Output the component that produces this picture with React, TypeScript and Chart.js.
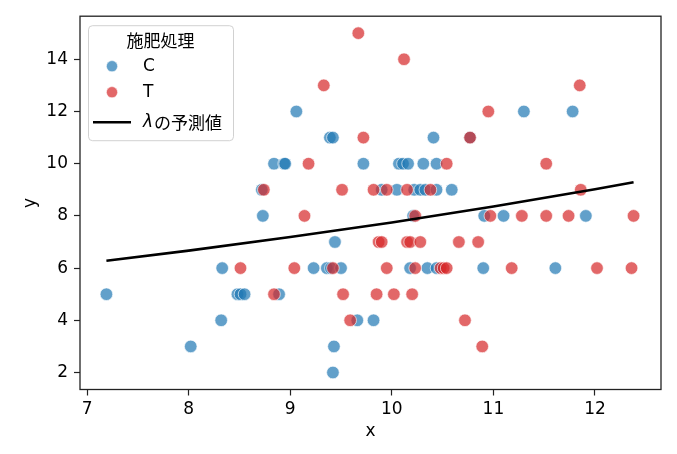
import React, { useEffect, useRef } from 'react';
import { Chart, registerables } from 'chart.js';

Chart.register(...registerables);

// ---- data ----
const cX = [
  9.42,
  8.02, 9.43,
  8.32, 9.66, 9.82,
  7.19, 8.48, 8.51, 8.55, 8.89,
  8.33, 9.23, 9.36, 9.40, 9.50, 10.18, 10.35, 10.44, 10.90, 11.61,
  9.44,
  8.73, 10.21, 10.91, 11.10, 11.91,
  8.72, 9.90, 10.05, 10.22, 10.28, 10.33, 10.44, 10.59,
  8.84, 8.94, 8.95, 9.72, 10.07, 10.11, 10.16, 10.31, 10.44,
  9.39, 9.42, 10.41, 10.77,
  9.06, 11.30, 11.78,
];
const cY = [
  2,
  3, 3,
  4, 4, 4,
  5, 5, 5, 5, 5,
  6, 6, 6, 6, 6, 6, 6, 6, 6, 6,
  7,
  8, 8, 8, 8, 8,
  9, 9, 9, 9, 9, 9, 9, 9,
  10, 10, 10, 10, 10, 10, 10, 10, 10,
  11, 11, 11, 11,
  12, 12, 12,
];
const tX = [
  10.89,
  9.59, 10.72,
  8.84, 9.52, 9.85, 10.02, 10.20,
  8.51, 9.04, 9.42, 9.95, 10.23, 10.48, 10.51, 10.54, 11.18, 12.02, 12.36,
  9.87, 9.90, 10.15, 10.18, 10.28, 10.66, 10.85,
  9.14, 10.23, 10.97, 11.28, 11.52, 11.74, 12.38,
  8.74, 9.51, 9.82, 9.95, 10.15, 10.38, 11.86,
  9.18, 10.54, 11.52,
  9.72, 10.77,
  10.95,
  9.33, 11.85,
  10.12,
  9.67,
];
const tY = [
  3,
  4, 4,
  5, 5, 5, 5, 5,
  6, 6, 6, 6, 6, 6, 6, 6, 6, 6, 6,
  7, 7, 7, 7, 7, 7, 7,
  8, 8, 8, 8, 8, 8, 8,
  9, 9, 9, 9, 9, 9, 9,
  10, 10, 10,
  11, 11,
  12,
  13, 13,
  14,
  15,
];
const lineX = [7.19, 8, 9, 10, 11, 12, 12.38];
const lineY = [6.28, 6.67, 7.19, 7.75, 8.36, 9.02, 9.29];

const xTicks = [7, 8, 9, 10, 11, 12];
const yTicks = [2, 4, 6, 8, 10, 12, 14];

const legendTitle = '施肥処理';
const groupLabels = ['C', 'T'];
const lineLabelSymbol = 'λ';
const lineLabelRest = 'の予測値';

const BLUE = 'rgba(31,119,180,0.7)';
const RED = 'rgba(214,39,40,0.7)';
const EDGE = 'rgba(255,255,255,0.7)';
const FONT_SIZE = 17;

const toPts = (xs: number[], ys: number[]) => xs.map((x, i) => ({ x, y: ys[i] }));

const framePlugin = {
  id: 'frame',
  afterDraw(chart: any) {
    const { ctx, chartArea } = chart;
    const { left, top, right, bottom } = chartArea;
    ctx.save();
    ctx.strokeStyle = '#222';
    ctx.lineWidth = 1.3;
    ctx.strokeRect(left, top, right - left, bottom - top);
    ctx.restore();
  },
};

const legendPlugin = {
  id: 'customLegend',
  afterDraw(chart: any) {
    const { ctx, chartArea } = chart;
    const bx = chartArea.left + 8;
    const by = chartArea.top + 9;
    const bw = 145;
    const bh = 115;
    ctx.save();
    ctx.beginPath();
    if ((ctx as any).roundRect) (ctx as any).roundRect(bx + 0.5, by + 0.5, bw, bh, 4);
    else ctx.rect(bx + 0.5, by + 0.5, bw, bh);
    ctx.fillStyle = 'rgba(255,255,255,0.8)';
    ctx.fill();
    ctx.strokeStyle = 'rgba(204,204,204,0.9)';
    ctx.lineWidth = 1;
    ctx.stroke();

    ctx.fillStyle = '#000';
    ctx.textBaseline = 'middle';
    ctx.textAlign = 'center';
    ctx.font = `${FONT_SIZE}px "Noto Sans CJK JP", "DejaVu Sans", sans-serif`;
    ctx.fillText(legendTitle, bx + bw / 2, by + 15);

    const markerX = bx + 24;
    const textX = bx + 55;
    const rows = [by + 41, by + 67, by + 97];
    const colors = [BLUE, RED];
    ctx.textAlign = 'left';
    for (let i = 0; i < 2; i++) {
      ctx.beginPath();
      ctx.arc(markerX, rows[i], 5.6, 0, Math.PI * 2);
      ctx.fillStyle = colors[i];
      ctx.fill();
      ctx.strokeStyle = EDGE;
      ctx.lineWidth = 0.8;
      ctx.stroke();
      ctx.fillStyle = '#000';
      ctx.font = `${FONT_SIZE}px "DejaVu Sans", sans-serif`;
      ctx.fillText(groupLabels[i], textX, rows[i]);
    }
    // line entry
    ctx.beginPath();
    ctx.moveTo(bx + 5, rows[2]);
    ctx.lineTo(bx + 43, rows[2]);
    ctx.strokeStyle = '#000';
    ctx.lineWidth = 2.6;
    ctx.stroke();
    ctx.fillStyle = '#000';
    ctx.font = `italic ${FONT_SIZE}px "DejaVu Sans", sans-serif`;
    ctx.fillText(lineLabelSymbol, textX, rows[2]);
    const w = ctx.measureText(lineLabelSymbol).width;
    ctx.font = `${FONT_SIZE}px "Noto Sans CJK JP", sans-serif`;
    ctx.fillText(lineLabelRest, textX + w + 1, rows[2]);
    ctx.restore();
  },
};

export default function App() {
  const ref = useRef<HTMLCanvasElement>(null);
  useEffect(() => {
    const canvas = ref.current;
    if (!canvas) return;
    const tickFont = { family: '"DejaVu Sans", sans-serif', size: FONT_SIZE };
    const chart = new Chart(canvas, {
      type: 'scatter',
      data: {
        datasets: [
          {
            type: 'line',
            label: 'λの予測値',
            data: toPts(lineX, lineY),
            borderColor: '#000',
            borderWidth: 2.6,
            pointRadius: 0,
            tension: 0,
            fill: false,
            order: 0,
          } as any,
          {
            label: groupLabels[1],
            data: toPts(tX, tY),
            backgroundColor: RED,
            borderColor: EDGE,
            borderWidth: 0.9,
            pointRadius: 6.3,
            order: 1,
          },
          {
            label: groupLabels[0],
            data: toPts(cX, cY),
            backgroundColor: BLUE,
            borderColor: EDGE,
            borderWidth: 0.9,
            pointRadius: 6.3,
            order: 2,
          },
        ],
      },
      options: {
        responsive: false,
        animation: false,
        events: [],
        layout: { padding: { left: 0, top: 12, right: 16, bottom: 0 } },
        plugins: {
          legend: { display: false },
          tooltip: { enabled: false },
        },
        scales: {
          x: {
            type: 'linear',
            min: 6.93,
            max: 12.65,
            afterBuildTicks: (axis: any) => {
              axis.ticks = xTicks.map((v) => ({ value: v }));
            },
            afterFit: (axis: any) => {
              axis.height = 64.5;
            },
            border: { display: false },
            grid: {
              drawOnChartArea: false,
              drawTicks: true,
              tickLength: 6,
              tickColor: '#222',
              tickWidth: 1.2,
            },
            ticks: {
              font: tickFont,
              color: '#000',
              padding: 4,
              maxRotation: 0,
              callback: (v: any) => String(v),
            },
            title: {
              display: true,
              text: 'x',
              font: tickFont,
              color: '#000',
              padding: { top: 0, bottom: 12 },
            },
          },
          y: {
            type: 'linear',
            min: 1.35,
            max: 15.65,
            afterBuildTicks: (axis: any) => {
              axis.ticks = yTicks.map((v) => ({ value: v }));
            },
            afterFit: (axis: any) => {
              axis.width = 80;
            },
            border: { display: false },
            grid: {
              drawOnChartArea: false,
              drawTicks: true,
              tickLength: 6,
              tickColor: '#222',
              tickWidth: 1.2,
            },
            ticks: {
              font: tickFont,
              color: '#000',
              padding: 6,
              callback: (v: any) => String(v),
            },
            title: {
              display: true,
              text: 'y',
              font: tickFont,
              color: '#000',
              padding: { top: 20, bottom: 0 },
            },
          },
        },
      },
      plugins: [framePlugin, legendPlugin],
    });
    return () => chart.destroy();
  }, []);
  return (
    <div style={{ position: 'fixed', left: 0, top: 0, width: 677, height: 454, background: '#fff' }}>
      <canvas ref={ref} width={677} height={454} style={{ display: 'block', width: 677, height: 454 }} />
    </div>
  );
}
